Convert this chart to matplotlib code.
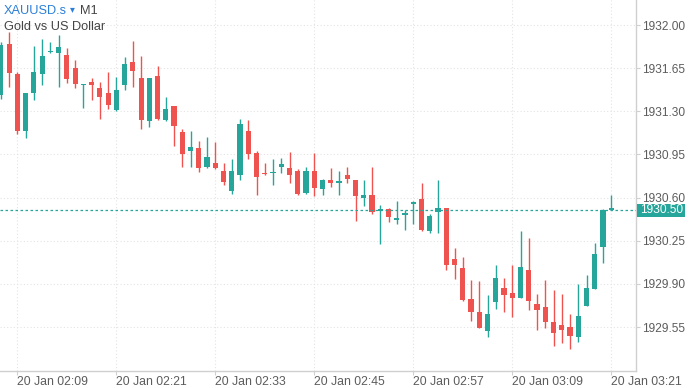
import numpy as np
import matplotlib
matplotlib.use("Agg")
import matplotlib.pyplot as plt
from matplotlib.patches import Rectangle

plt.rcParams['font.family'] = ['Liberation Sans', 'DejaVu Sans']

# --- data: one-minute candles, 20 Jan 02:07 .. 03:21 ---
times = ["02:07", "02:08", "02:09", "02:10", "02:11", "02:12", "02:13", "02:14", "02:15", "02:16",
         "02:17", "02:18", "02:19", "02:20", "02:21", "02:22", "02:23", "02:24", "02:25", "02:26",
         "02:27", "02:28", "02:29", "02:30", "02:31", "02:32", "02:33", "02:34", "02:35", "02:36",
         "02:37", "02:38", "02:39", "02:40", "02:41", "02:42", "02:43", "02:44", "02:45", "02:46",
         "02:47", "02:48", "02:49", "02:50", "02:51", "02:52", "02:53", "02:54", "02:55", "02:56",
         "02:57", "02:58", "02:59", "03:00", "03:01", "03:02", "03:03", "03:04", "03:05", "03:06",
         "03:07", "03:08", "03:09", "03:10", "03:11", "03:12", "03:13", "03:14", "03:15", "03:16",
         "03:17", "03:18", "03:19", "03:20", "03:21"]

opens = [1931.43, 1931.85, 1931.60, 1931.14, 1931.45, 1931.60, 1931.78, 1931.77, 1931.76, 1931.65,
         1931.51, 1931.54, 1931.49, 1931.45, 1931.31, 1931.51, 1931.70, 1931.57, 1931.22, 1931.59,
         1931.23, 1931.34, 1931.13, 1930.98, 1931.00, 1930.85, 1930.88, 1930.82, 1930.65, 1930.78,
         1931.14, 1930.96, 1930.80, 1930.80, 1930.85, 1930.84, 1930.82, 1930.64, 1930.82, 1930.67,
         1930.74, 1930.72, 1930.78, 1930.74, 1930.60, 1930.62, 1930.49, 1930.51, 1930.42, 1930.46,
         1930.55, 1930.59, 1930.33, 1930.48, 1930.52, 1930.10, 1930.03, 1929.78, 1929.67, 1929.52,
         1929.75, 1929.87, 1929.83, 1929.79, 1930.01, 1929.74, 1929.71, 1929.59, 1929.57, 1929.55,
         1929.47, 1929.72, 1929.86, 1930.20, 1930.50]

highs = [1931.86, 1931.94, 1931.62, 1931.45, 1931.83, 1931.89, 1931.86, 1931.92, 1931.81, 1931.72,
         1931.52, 1931.57, 1931.54, 1931.62, 1931.58, 1931.74, 1931.87, 1931.75, 1931.57, 1931.67,
         1931.42, 1931.34, 1931.16, 1931.14, 1931.06, 1931.09, 1931.05, 1930.88, 1930.91, 1931.24,
         1931.23, 1930.98, 1930.88, 1930.91, 1930.92, 1930.97, 1930.83, 1930.85, 1930.96, 1930.75,
         1930.84, 1930.82, 1930.85, 1930.74, 1930.74, 1930.85, 1930.54, 1930.52, 1930.57, 1930.50,
         1930.57, 1930.72, 1930.47, 1930.74, 1930.52, 1930.19, 1930.12, 1929.93, 1929.92, 1929.81,
         1930.05, 1929.95, 1930.05, 1930.33, 1930.27, 1929.82, 1929.93, 1929.85, 1929.82, 1929.66,
         1929.90, 1929.97, 1930.23, 1930.51, 1930.62]

lows = [1931.40, 1931.50, 1931.12, 1931.08, 1931.39, 1931.51, 1931.77, 1931.50, 1931.53, 1931.49,
        1931.33, 1931.39, 1931.24, 1931.32, 1931.30, 1931.47, 1931.50, 1931.16, 1931.17, 1931.23,
        1931.22, 1931.02, 1930.85, 1930.85, 1930.81, 1930.84, 1930.83, 1930.70, 1930.63, 1930.74,
        1930.91, 1930.62, 1930.78, 1930.70, 1930.80, 1930.72, 1930.62, 1930.63, 1930.61, 1930.62,
        1930.69, 1930.62, 1930.72, 1930.41, 1930.53, 1930.47, 1930.22, 1930.40, 1930.39, 1930.34,
        1930.39, 1930.33, 1930.31, 1930.31, 1930.01, 1929.94, 1929.76, 1929.60, 1929.54, 1929.47,
        1929.70, 1929.67, 1929.63, 1929.79, 1929.69, 1929.53, 1929.54, 1929.40, 1929.42, 1929.37,
        1929.43, 1929.72, 1929.86, 1930.07, 1930.50]

closes = [1931.84, 1931.61, 1931.14, 1931.45, 1931.62, 1931.75, 1931.78, 1931.82, 1931.56, 1931.52,
          1931.52, 1931.51, 1931.42, 1931.35, 1931.47, 1931.68, 1931.63, 1931.23, 1931.57, 1931.24,
          1931.32, 1931.18, 1930.95, 1931.01, 1930.84, 1930.93, 1930.84, 1930.73, 1930.82, 1931.20,
          1930.95, 1930.77, 1930.79, 1930.81, 1930.87, 1930.78, 1930.63, 1930.82, 1930.68, 1930.74,
          1930.72, 1930.73, 1930.75, 1930.61, 1930.62, 1930.48, 1930.51, 1930.44, 1930.43, 1930.46,
          1930.56, 1930.34, 1930.45, 1930.52, 1930.05, 1930.05, 1929.77, 1929.67, 1929.54, 1929.66,
          1929.95, 1929.81, 1929.79, 1930.04, 1929.76, 1929.69, 1929.59, 1929.50, 1929.53, 1929.48,
          1929.64, 1929.87, 1930.14, 1930.50, 1930.50]

price_ticks = [1932.00, 1931.65, 1931.30, 1930.95, 1930.60, 1930.25, 1929.90, 1929.55]
time_ticks = ["02:09", "02:21", "02:33", "02:45", "02:57", "03:09", "03:21"]
last_price = 1930.50

UP = '#26a69a'
DOWN = '#ef5350'
W, H = 690, 388

fig = plt.figure(figsize=(6.9, 3.88), dpi=100)
ax = fig.add_axes([0, 17 / H, 636 / W, 371 / H])

x = np.arange(len(times))
o = np.array(opens)
h = np.array(highs)
l = np.array(lows)
c = np.array(closes)
colors = np.where(c >= o, UP, DOWN)

# wicks then bodies
ax.vlines(x, l, h, colors=colors, linewidth=1.0, zorder=3)
body_bottom = np.minimum(o, c)
body_height = np.maximum(np.abs(c - o), 0.012)
ax.bar(x, body_height, bottom=body_bottom, width=0.62, color=colors, linewidth=0, zorder=4)

ax.set_xlim(-0.1, 77.0)
ax.set_ylim(1929.194, 1932.203)

# grid
ax.grid(True, color='#e4e4e4', linestyle=(0, (1, 2)), linewidth=0.8, zorder=0)
ax.set_axisbelow(True)

# axes styling
for side in ['top', 'left']:
    ax.spines[side].set_visible(False)
for side in ['right', 'bottom']:
    ax.spines[side].set_color('#d0d0d0')
    ax.spines[side].set_linewidth(1.0)

ax.yaxis.tick_right()
ax.set_yticks(price_ticks)
ax.set_yticklabels([f"{p:.2f}" for p in price_ticks])
ax.tick_params(axis='y', length=3, color='#d0d0d0', labelsize=8.6, labelcolor='#5c5c5c', pad=1.5)

tick_pos = [times.index(t) for t in time_ticks]
ax.set_xticks(tick_pos)
ax.set_xticklabels([f"20 Jan {t}" for t in time_ticks])
ax.tick_params(axis='x', length=3, color='#d0d0d0', labelsize=8.8, labelcolor='#5c5c5c', pad=0.5)
for lbl in ax.get_xticklabels():
    lbl.set_horizontalalignment('left')

# current price line + label
ax.axhline(last_price, color=UP, linestyle=(0, (2, 2)), linewidth=0.9, zorder=5)
fig.patches.append(Rectangle((637 / W, 1 - 217 / H), 48 / W, 13.5 / H, transform=fig.transFigure,
                             facecolor=UP, edgecolor='none', zorder=6))
fig.text(640 / W, 1 - 210.5 / H, f"{last_price:.2f}", color='white', fontsize=8.6,
         ha='left', va='center', zorder=7)

# symbol header
fig.text(4 / W, 1 - 11 / H, "XAUUSD.s", color='#2b7fd8', fontsize=9.2, va='center', ha='left')
fig.text(70 / W, 1 - 9.5 / H, "▾", color='#2b7fd8', fontsize=7, va='center', ha='left')
fig.text(80 / W, 1 - 11 / H, "M1", color='#444444', fontsize=9.2, va='center', ha='left')
fig.text(4 / W, 1 - 27 / H, "Gold vs US Dollar", color='#444444', fontsize=9.2, va='center', ha='left')

fig.savefig('out.png', dpi=100)
